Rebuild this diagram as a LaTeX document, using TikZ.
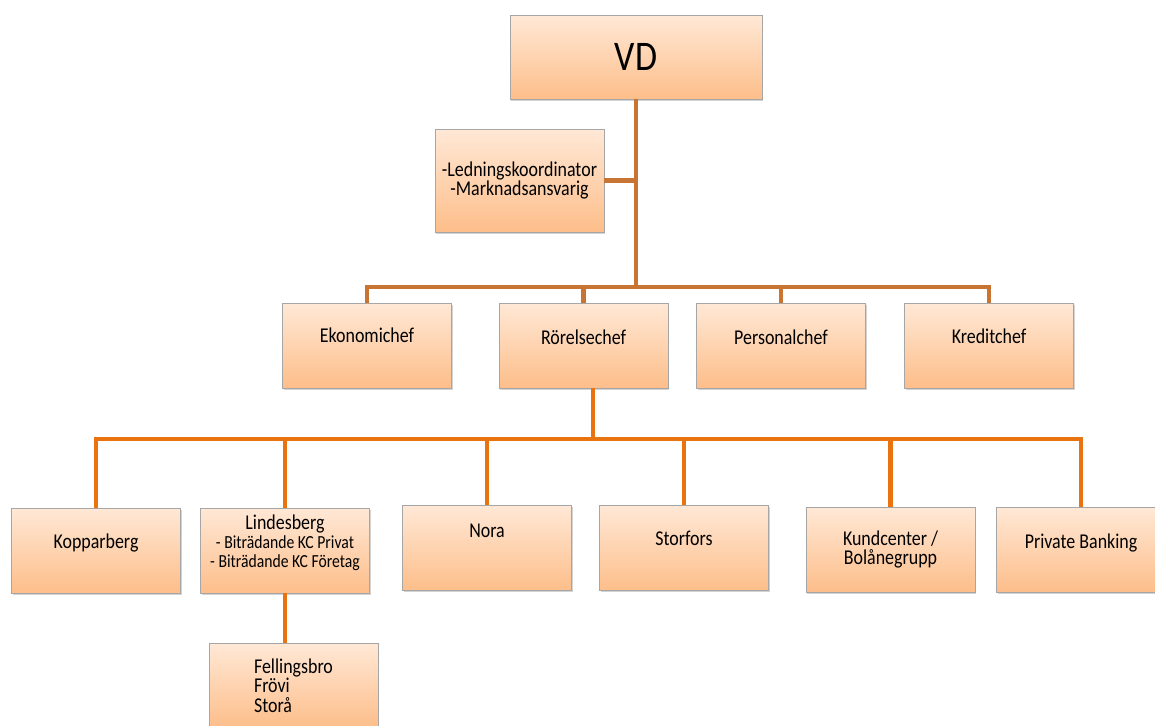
\documentclass[tikz,border=0pt]{standalone}
\usepackage{fontspec}
\setmainfont{Carlito}[FakeStretch=0.85]
\usetikzlibrary{shadows}
\definecolor{boxtop}{HTML}{FFE8D6}
\definecolor{boxbot}{HTML}{FDBE8A}
\definecolor{upline}{HTML}{C87533}
\definecolor{lowline}{HTML}{E8730F}
\newcommand{\subfnt}{\fontsize{10.5}{9}\selectfont}
\begin{document}
\begin{tikzpicture}[x=0.02cm,y=-0.02cm,
  every node/.style={shape=rectangle, align=center, font=\fontsize{12}{11}\selectfont},
  box/.style={draw=black!35, top color=boxtop, bottom color=boxbot, minimum width=3.38cm, minimum height=1.7cm, inner sep=2pt,
    drop shadow={shadow xshift=0.7pt, shadow yshift=-0.9pt, opacity=0.35}},
  lift/.style={text depth=#1},
  uplink/.style={draw=upline, line width=2.3pt},
  lowlink/.style={draw=lowline, line width=2.3pt}]
\clip (0,0) rectangle (1155,725);
% ledning
\node[box, minimum width=5.04cm, minimum height=1.68cm, font=\fontsize{24}{24}\selectfont] (vd) at (636,57) {VD};
\node[box, minimum height=2.06cm] (led) at (519.5,180.5) {-Ledningskoordinator\\-Marknadsansvarig};
% chefer
\node[box, lift=0.4cm] (eko) at (367,345.5) {Ekonomichef};
\node[box, lift=0.32cm] (rorel) at (583.5,345.5) {Rörelsechef};
\node[box, lift=0.34cm] (pers) at (781,345.5) {Personalchef};
\node[box, lift=0.38cm] (kred) at (989,345.5) {Kreditchef};
% kontor
\node[box, lift=0.38cm] (kop) at (96,550.5) {Kopparberg};
\node[box, lift=0.38cm] (lin) at (285,550.5) {Lindesberg\\\subfnt - Biträdande KC Privat\\\subfnt - Biträdande KC Företag};
\node[box, lift=0.68cm] (nora) at (487,548) {Nora};
\node[box, lift=0.4cm] (stor) at (684,548) {Storfors};
\node[box] (kund) at (890.5,549.5) {Kundcenter /\\Bolånegrupp};
\node[box, lift=0.34cm] (priv) at (1081,549.5) {Private Banking};
\node[box, align=left] (fell) at (293.5,685.5) {Fellingsbro\\Frövi\\Storå};
% linjer
\coordinate (top) at (636,287);
\coordinate (mid) at (593,439);
\draw[uplink] (vd.south) -- (top);
\draw[uplink] (led.east) -- (led.east -| vd.south);
\foreach \n in {eko,rorel,pers,kred}
  \draw[uplink] (top) -| (\n.north);
\draw[lowlink] (rorel.south -| mid) -- (mid);
\foreach \n in {kop,lin,nora,stor,kund,priv}
  \draw[lowlink] (mid) -| (\n.north);
\draw[lowlink] (lin.south) -- (lin.south |- fell.north);
\end{tikzpicture}
\end{document}
